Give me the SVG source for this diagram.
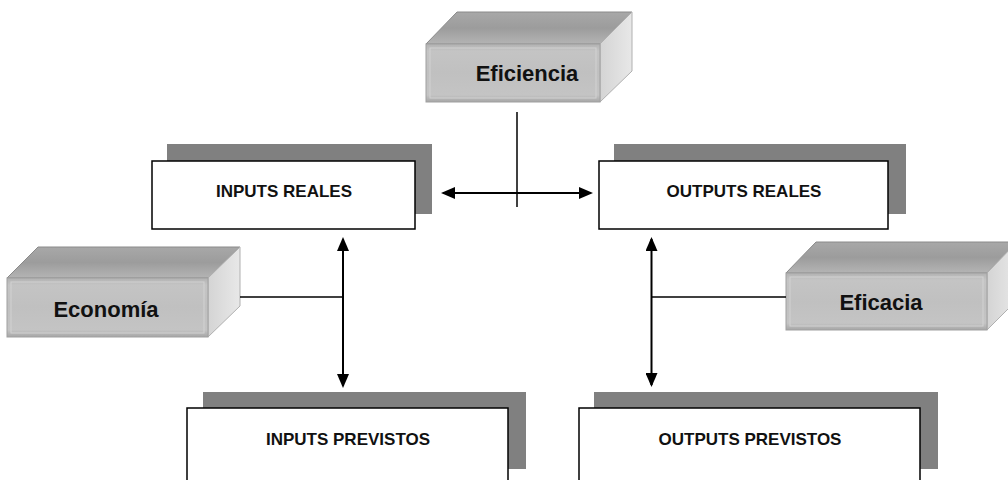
<svg xmlns="http://www.w3.org/2000/svg" width="1008" height="480" viewBox="0 0 1008 480">
  <defs>
    <linearGradient id="gFront" x1="0" y1="0" x2="0" y2="1">
      <stop offset="0" stop-color="#b2b2b2"/>
      <stop offset="0.12" stop-color="#c4c4c4"/>
      <stop offset="0.5" stop-color="#c0c0c0"/>
      <stop offset="0.88" stop-color="#c4c4c4"/>
      <stop offset="1" stop-color="#a6a6a6"/>
    </linearGradient>
    <linearGradient id="gTop" x1="0" y1="0" x2="0" y2="1">
      <stop offset="0" stop-color="#a8a8a8"/>
      <stop offset="0.5" stop-color="#9c9c9c"/>
      <stop offset="1" stop-color="#b4b4b4"/>
    </linearGradient>
    <linearGradient id="gSide" x1="0" y1="0" x2="1" y2="0">
      <stop offset="0" stop-color="#d4d4d4"/>
      <stop offset="1" stop-color="#e8e8e8"/>
    </linearGradient>
    <marker id="arr" viewBox="0 0 14 12" refX="12" refY="6" markerWidth="14" markerHeight="12" markerUnits="userSpaceOnUse" orient="auto-start-reverse">
      <path d="M0,0 L14,6 L0,12 z" fill="#000"/>
    </marker>
  </defs>
  <style>
    .shadow { fill: #808080; }
    .box { fill: #ffffff; stroke: #000000; stroke-width: 1.5; }
    .lbl { font-family: "Liberation Sans", Arial, sans-serif; font-weight: bold; font-size: 17px; fill: #111; text-anchor: middle; }
    .lbl3d { font-family: "Liberation Sans", Arial, sans-serif; font-weight: bold; font-size: 22px; fill: #111; text-anchor: middle; }
    .front { fill: url(#gFront); stroke: #a0a0a0; stroke-width: 1; }
    .top { fill: url(#gTop); stroke: #8a8a8a; stroke-width: 1; }
    .side { fill: url(#gSide); stroke: #b0b0b0; stroke-width: 1; }
    .inner { fill: none; stroke: #d2d2d2; stroke-width: 1; }
    .conn { stroke: #000; stroke-width: 1.5; fill: none; }
    .arrow { stroke: #000; stroke-width: 2; fill: none; }
  </style>

  <g id="eficiencia">
    <polygon class="top" points="426,44 457,12 632,12 600,44"/>
    <polygon class="side" points="600,44 632,12 632,71 600,102"/>
    <rect class="front" x="426" y="44" width="174" height="58"/>
    <rect class="inner" x="430" y="48" width="166" height="50"/>
    <text class="lbl3d" x="527" y="81">Eficiencia</text>
  </g>

  <g id="economia">
    <polygon class="top" points="7,278 38,247 240,247 208,278"/>
    <polygon class="side" points="208,278 240,247 240,306 208,337"/>
    <rect class="front" x="7" y="278" width="201" height="59"/>
    <rect class="inner" x="11" y="282" width="193" height="51"/>
    <text class="lbl3d" x="106" y="317">Economía</text>
  </g>

  <g id="eficacia">
    <polygon class="top" points="786,273 816,242 1017,242 987,273"/>
    <polygon class="side" points="987,273 1017,242 1017,300 987,330"/>
    <rect class="front" x="786" y="273" width="201" height="57"/>
    <rect class="inner" x="790" y="277" width="193" height="49"/>
    <text class="lbl3d" x="881" y="310">Eficacia</text>
  </g>

  <g id="inputs-reales">
    <rect class="shadow" x="167" y="144" width="265" height="70"/>
    <rect class="box" x="152" y="161" width="263" height="68"/>
    <text class="lbl" x="284" y="197">INPUTS REALES</text>
  </g>

  <g id="outputs-reales">
    <rect class="shadow" x="614" y="144" width="292" height="70"/>
    <rect class="box" x="599" y="161" width="289" height="68"/>
    <text class="lbl" x="744" y="197">OUTPUTS REALES</text>
  </g>

  <g id="inputs-previstos">
    <rect class="shadow" x="203" y="392" width="323" height="77"/>
    <rect class="box" x="187" y="408" width="321" height="90"/>
    <text class="lbl" x="348" y="445">INPUTS PREVISTOS</text>
  </g>

  <g id="outputs-previstos">
    <rect class="shadow" x="594" y="392" width="344" height="77"/>
    <rect class="box" x="579" y="408" width="341" height="90"/>
    <text class="lbl" x="750" y="445">OUTPUTS PREVISTOS</text>
  </g>

  <g id="connectors">
    <line class="conn" x1="517" y1="112" x2="517" y2="207"/>
    <line class="arrow" x1="443" y1="193" x2="591" y2="193" marker-start="url(#arr)" marker-end="url(#arr)"/>
    <line class="arrow" x1="343" y1="239" x2="343" y2="386" marker-start="url(#arr)" marker-end="url(#arr)"/>
    <line class="arrow" x1="651.5" y1="239" x2="651.5" y2="385" marker-start="url(#arr)" marker-end="url(#arr)"/>
    <line class="conn" x1="240" y1="297" x2="343" y2="297"/>
    <line class="conn" x1="652" y1="297" x2="786" y2="297"/>
  </g>
</svg>
